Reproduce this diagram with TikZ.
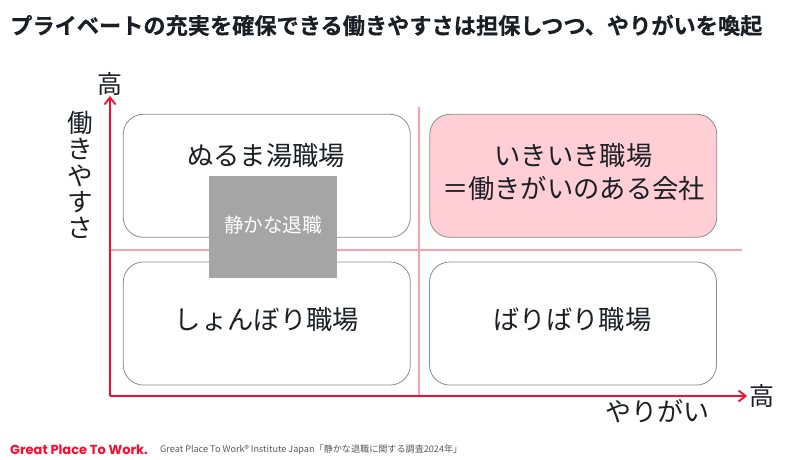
\documentclass[tikz,border=0pt]{standalone}
\usepackage{fontspec}
\setmainfont{Noto Sans CJK JP}
\newfontfamily\jpbold[FakeBold=0.35]{Noto Sans CJK JP Bold}
\newfontfamily\latinsans{Poppins}
\usetikzlibrary{arrows.meta}
\definecolor{axisred}{HTML}{FF0A2D}
\definecolor{guidepink}{RGB}{255,160,174}
\definecolor{inkdark}{HTML}{1A1F26}
\definecolor{pinkfill}{HTML}{FFCFD5}
\definecolor{graybox}{HTML}{A5A5A5}
\definecolor{boxline}{HTML}{8C8C8C}
\tikzset{
  quad/.style={draw=boxline,line width=0.8pt,rounded corners=20pt,minimum width=287pt,minimum height=123pt,inner sep=0pt},
  quadtext/.style={inner sep=0pt,font=\fontsize{26.3}{33}\selectfont,text=inkdark,align=center},
  axisline/.style={draw=axisred,line width=2.2pt,-{Straight Barb[length=7pt,width=11pt,line width=1.8pt]}},
  guideline/.style={color=guidepink,line width=1.3pt},
  lbl/.style={inner sep=0pt,text=inkdark,font=\fontsize{25}{28}\selectfont},
}
\begin{document}
\begin{tikzpicture}[x=1pt,y=-1pt]
\useasboundingbox (0,0) rectangle (800,459);
\fill[white] (0,0) rectangle (800,459);
\node[inner sep=0pt,text=inkdark,anchor=west] (title) at (10,25.5) {\jpbold\fontsize{22.2}{26}\selectfont プライベートの充実を確保できる働きやすさは担保しつつ、やりがいを喚起};

\coordinate (origin) at (110,396);
\coordinate (ytop) at (110,96);
\coordinate (xend) at (747,396);
\coordinate (vtop) at (419,107);
\coordinate (vbot) at (419,396);
\coordinate (hleft) at (110,250);
\coordinate (hright) at (742,250);
\draw[guideline] (vtop) -- (vbot);
\draw[guideline] (hleft) -- (hright);

\node[quad] (tl) at (266.8,175.8) {};
\node[quad,fill=pinkfill] (tr) at (573.3,175.8) {};
\node[quad] (bl) at (266.8,323.5) {};
\node[quad] (br) at (573,323.5) {};
\node[quadtext] (tltext) at (266,155.5) {ぬるま湯職場};
\node[quadtext] (trtext) at (573.5,172) {いきいき職場\\＝働きがいのある会社};
\node[quadtext] (bltext) at (267,319.5) {しょんぼり職場};
\node[quadtext] (brtext) at (572.5,319.5) {ばりばり職場};
\node[draw=none,fill=graybox,minimum width=127.5pt,minimum height=102pt,inner sep=0pt] (quiet) at (272.8,227) {};
\node[inner sep=0pt,text=white,font=\fontsize{19.6}{22}\selectfont] (quiettext) at (273,225) {静かな退職};

\draw[axisline] (origin) -- (ytop);
\draw[axisline] (origin) -- (xend);

\node[lbl] (yhigh) at (110,83.5) {高};
\node[lbl] (xhigh) at (761.5,396) {高};
\node[lbl,align=center,font=\fontsize{25.5}{26.4}\selectfont] (ylab) at (80.5,175) {働\\き\\や\\す\\さ};
\node[lbl,font=\fontsize{26}{30}\selectfont] (xlab) at (657,411) {やりがい};

\node[inner sep=0pt,anchor=west,text=axisred] (logo) at (10,450) {\latinsans\bfseries\fontsize{13}{15}\selectfont Great Place To Work.};
\node[inner sep=0pt,anchor=west,text=black!65] (src) at (160,449.5) {\fontsize{9.1}{11}\selectfont Great Place To Work® Institute Japan「静かな退職に関する調査2024年」};
\end{tikzpicture}
\end{document}
